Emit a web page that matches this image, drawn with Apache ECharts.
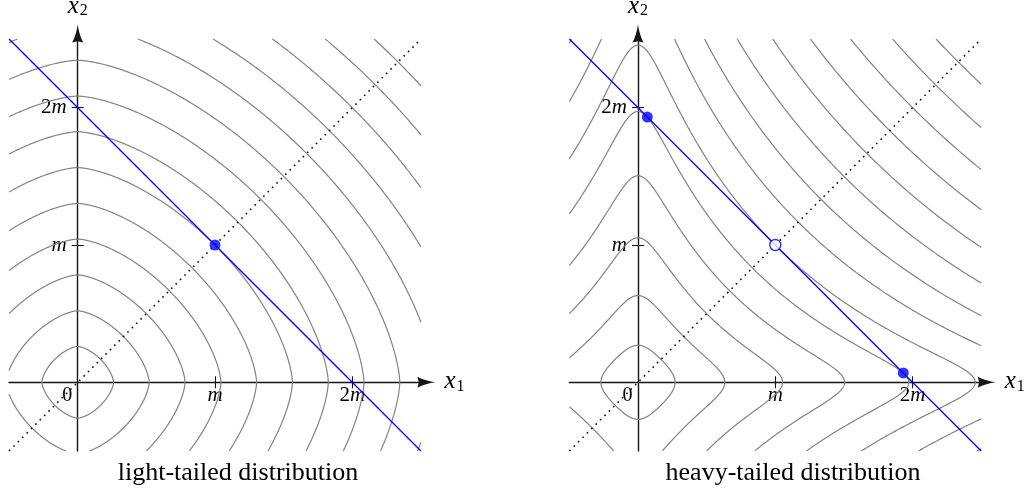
<!DOCTYPE html>
<html>
<head>
<meta charset="utf-8">
<script src="https://cdn.jsdelivr.net/npm/echarts@6/dist/echarts.min.js"></script>
<style>
  html, body { margin: 0; padding: 0; background: #ffffff; }
  #chart { width: 1032px; height: 492px; }
</style>
</head>
<body>
<div id="chart"></div>
<script>
// ---- data (all values in units of m) ----
const windowMin = -0.5;          // visible window of each panel
const windowMax = 2.5;
const axisMax = 2.54;            // axes run a little past the window, to the arrow heads
// each contour is the level set through the point (t, t) on the diagonal
const diagonalLevels = [0.167, 0.333, 0.5, 0.667, 0.833, 1, 1.167, 1.333, 1.5, 1.667, 1.833, 2, 2.167, 2.333];
// light tail: -log p(x) = |x|^a
const lightExponent = 1.55;
// heavy tail: -log p(x) = (1 + x^2 / s^2)^b
const heavyWidth = 0.16;
const heavyPower = 0.28;
// the constraint x1 + x2 = 2m
const sumValue = 2;
// most likely points on the constraint line
const lightModes = [[1, 1]];
const heavyModes = [[0.068, 1.932], [1.932, 0.068]];
const heavyAntiModes = [[1, 1]];
// axis ticks and their labels
const tickValues = [1, 2];
const xLabelValues = [0, 1, 2];
const tickNames = { 0: '0', 1: 'm', 2: '2m' };
const captions = ['light-tailed distribution', 'heavy-tailed distribution'];

// ---- contour geometry ----
const lightPotential = {
  f: x => Math.pow(x, lightExponent),
  inv: u => Math.pow(Math.max(u, 0), 1 / lightExponent)
};
const heavyPotential = {
  f: x => Math.pow(1 + (x * x) / (heavyWidth * heavyWidth), heavyPower) - 1,
  inv: u => heavyWidth * Math.sqrt(Math.max(Math.pow(1 + Math.max(u, 0), 1 / heavyPower) - 1, 0))
};

// closed level curve f(|x1|) + f(|x2|) = 2 f(t)
function levelCurve(pot, t) {
  const L = 2 * pot.f(t);
  const N = 360;
  const q = [];
  for (let j = 0; j <= N; j++) {
    const w = (1 - Math.cos(Math.PI * j / N)) / 2;
    q.push([pot.inv(w * L), pot.inv((1 - w) * L)]);
  }
  const rev = q.slice().reverse();
  return [].concat(
    q,
    rev.map(p => [p[0], -p[1]]),
    q.map(p => [-p[0], -p[1]]),
    rev.map(p => [-p[0], p[1]])
  );
}

// Liang-Barsky clip of one segment to the window
function clipSegment(p, r) {
  let t0 = 0, t1 = 1;
  const dx = r[0] - p[0], dy = r[1] - p[1];
  const checks = [[-dx, p[0] - windowMin], [dx, windowMax - p[0]], [-dy, p[1] - windowMin], [dy, windowMax - p[1]]];
  for (const [pp, qq] of checks) {
    if (pp === 0) {
      if (qq < 0) return null;
    } else {
      const k = qq / pp;
      if (pp < 0) { if (k > t1) return null; if (k > t0) t0 = k; }
      else { if (k < t0) return null; if (k < t1) t1 = k; }
    }
  }
  return { a: [p[0] + t0 * dx, p[1] + t0 * dy], b: [p[0] + t1 * dx, p[1] + t1 * dy], t0, t1 };
}

function clipPolyline(pts) {
  const out = [];
  let cur = null;
  for (let i = 0; i + 1 < pts.length; i++) {
    const c = clipSegment(pts[i], pts[i + 1]);
    if (!c) { if (cur) { out.push(cur); cur = null; } continue; }
    if (cur && c.t0 === 0) cur.push(c.b);
    else { if (cur) out.push(cur); cur = [c.a, c.b]; }
    if (c.t1 < 1) { out.push(cur); cur = null; }
  }
  if (cur) out.push(cur);
  return out.filter(l => l.length > 1);
}

function contourData(pot) {
  const lines = [];
  diagonalLevels.forEach(t => {
    clipPolyline(levelCurve(pot, t)).forEach(c => lines.push({ coords: c }));
  });
  return lines;
}

// ---- styling ----
const axisColor = '#141414';
const serif = 'Liberation Serif';
const arrowPath = 'path://M5.5 0 C6.3 6 8.3 13 11 18 L5.5 16.6 L0 18 C2.7 13 4.7 6 5.5 0 Z';
const scalePx = 137.3;
const gridSize = (axisMax - windowMin) * scalePx;
const gridTop = 382.3 - axisMax * scalePx;
const originsX = [77.7, 638];
const captionCenters = [238, 793];
// shift that moves the bottom/left axes up/right onto the zero lines
const zeroShift = -(0 - windowMin) * scalePx;

const labelRich = {
  it: { fontFamily: serif, fontStyle: 'italic', fontSize: 21, color: '#000' },
  rm: { fontFamily: serif, fontSize: 21, color: '#000' },
  zero: { fontFamily: serif, fontSize: 20, color: '#000', padding: [0, 21, 0, 0] }
};
function tickLabel(v) {
  const name = tickNames[Math.round(v)];
  if (name === '0') return '{zero|0}';
  if (name === 'm') return '{it|m}';
  return '{rm|2}{it|m}';
}
const nameRich = {
  v: { fontFamily: serif, fontStyle: 'italic', fontSize: 25, lineHeight: 24, color: '#000', verticalAlign: 'bottom' },
  s: { fontFamily: serif, fontSize: 16, lineHeight: 10, color: '#000', verticalAlign: 'bottom', padding: [0, 0, 0, 1] }
};
const axisLineStyle = { color: axisColor, width: 1.4 };
const tickStyle = { color: axisColor, width: 1.1 };

const grids = [], xAxes = [], yAxes = [], series = [];
[0, 1].forEach(g => {
  grids.push({
    left: originsX[g] - (0 - windowMin) * scalePx, top: gridTop,
    width: gridSize, height: gridSize, outerBoundsMode: 'none'
  });
  const common = {
    gridIndex: g, type: 'value', min: windowMin, max: axisMax,
    offset: zeroShift, splitLine: { show: false }
  };
  // main axes: line, arrow, outer tick half, labels, name
  xAxes.push(Object.assign({}, common, {
    position: 'bottom',
    axisLine: { onZero: false, symbol: ['none', arrowPath], symbolSize: [11, 18], lineStyle: axisLineStyle },
    axisTick: { customValues: tickValues, length: 6, lineStyle: tickStyle },
    axisLabel: { customValues: xLabelValues, margin: 3, formatter: tickLabel, rich: labelRich },
    name: '{v|x}{s|1}', nameLocation: 'end', nameGap: 18,
    nameTextStyle: { rich: nameRich }
  }));
  // companion axes: inner tick half so ticks cross the axis line
  xAxes.push(Object.assign({}, common, {
    position: 'bottom',
    axisLine: { onZero: false, lineStyle: { color: axisColor, opacity: 0 } },
    axisTick: { inside: true, customValues: tickValues, length: 6, lineStyle: tickStyle },
    axisLabel: { show: false }
  }));
  yAxes.push(Object.assign({}, common, {
    position: 'left',
    axisLine: { onZero: false, symbol: ['none', arrowPath], symbolSize: [11, 18], lineStyle: axisLineStyle },
    axisTick: { customValues: tickValues, length: 6, lineStyle: tickStyle },
    axisLabel: { customValues: tickValues, margin: 11, formatter: tickLabel, rich: labelRich },
    name: '{v|x}{s|2}', nameLocation: 'end', nameGap: 15,
    nameTextStyle: { rich: nameRich }
  }));
  yAxes.push(Object.assign({}, common, {
    position: 'left',
    axisLine: { onZero: false, lineStyle: { color: axisColor, opacity: 0 } },
    axisTick: { inside: true, customValues: tickValues, length: 6, lineStyle: tickStyle },
    axisLabel: { show: false }
  }));

  const xi = 2 * g, yi = 2 * g;
  series.push({
    name: g === 0 ? 'light-tailed contours' : 'heavy-tailed contours',
    type: 'lines', coordinateSystem: 'cartesian2d', xAxisIndex: xi, yAxisIndex: yi,
    polyline: true, silent: true,
    lineStyle: { color: '#838383', width: 1.2, opacity: 1 },
    data: contourData(g === 0 ? lightPotential : heavyPotential)
  });
  series.push({
    name: 'diagonal', type: 'line', xAxisIndex: xi, yAxisIndex: yi,
    showSymbol: false, silent: true,
    lineStyle: { color: '#000', width: 1.5, type: [1.6, 4.6], cap: 'butt' },
    data: [[windowMin, windowMin], [windowMax, windowMax]]
  });
  series.push({
    name: 'x1 + x2 = 2m', type: 'line', xAxisIndex: xi, yAxisIndex: yi,
    showSymbol: false, silent: true,
    lineStyle: { color: '#0000ff', width: 1.3 },
    data: [[windowMin, sumValue - windowMin], [sumValue - windowMin, windowMin]]
  });
  series.push({
    name: 'modes', type: 'scatter', xAxisIndex: xi, yAxisIndex: yi,
    symbol: 'circle', symbolSize: 11, silent: true, z: 5,
    itemStyle: { color: '#0000ff' },
    data: g === 0 ? lightModes : heavyModes
  });
  if (g === 1) {
    series.push({
      name: 'local minimum', type: 'scatter', xAxisIndex: xi, yAxisIndex: yi,
      symbol: 'circle', symbolSize: 11, silent: true, z: 5,
      itemStyle: { color: '#ffffff', borderColor: '#0000ff', borderWidth: 1.4 },
      data: heavyAntiModes
    });
  }
});

const chart = echarts.init(document.getElementById('chart'), null, { renderer: 'canvas' });
chart.setOption({
  animation: false,
  backgroundColor: '#ffffff',
  title: captions.map((t, i) => ({
    text: t, left: captionCenters[i], top: 460.5, textAlign: 'center', padding: 0,
    textStyle: { fontFamily: serif, fontSize: 26, fontWeight: 'normal', color: '#000' }
  })),
  grid: grids,
  xAxis: xAxes,
  yAxis: yAxes,
  series: series
});
</script>
</body>
</html>
